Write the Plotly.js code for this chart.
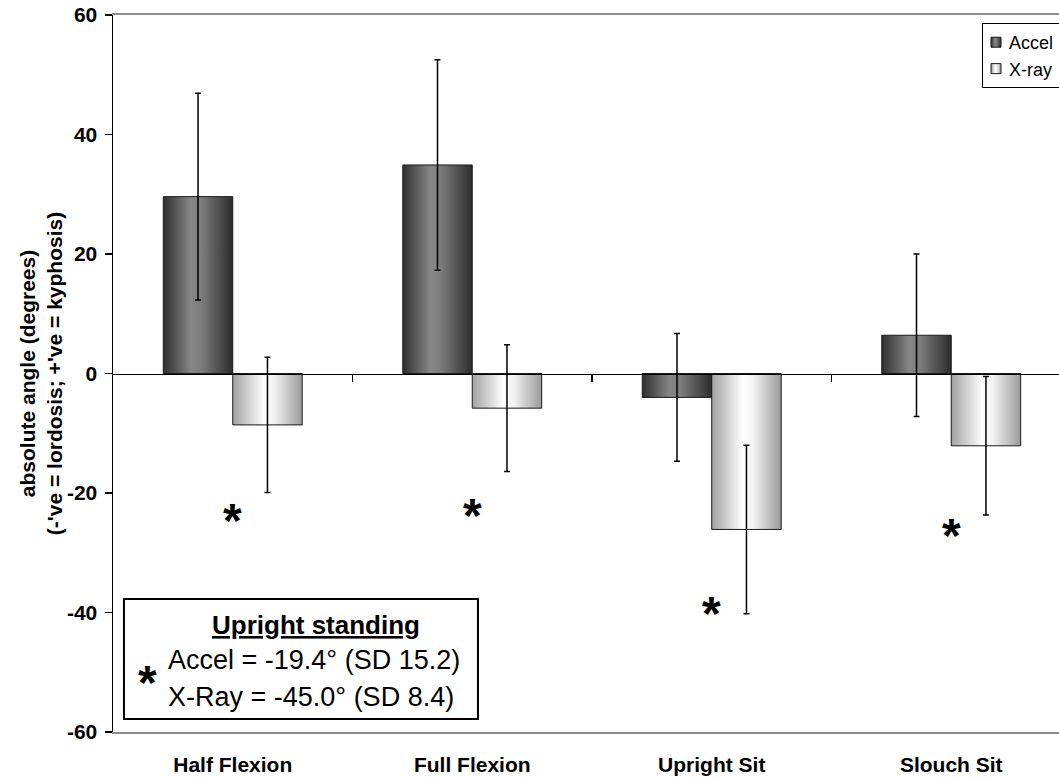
<!DOCTYPE html>
<html>
<head>
<meta charset="utf-8">
<script src="https://cdn.plot.ly/plotly-3.0.1.min.js"></script>
<style>
  html, body { margin: 0; padding: 0; background: #fff; }
  #chart { width: 1059px; height: 778px; }
</style>
</head>
<body>
<div id="chart"></div>
<script>
// Postures measured
const categories = ['Half Flexion', 'Full Flexion', 'Upright Sit', 'Slouch Sit'];

// Mean absolute angle (degrees) and standard deviation for each method
const accelMean = [29.6, 34.9, -4.0, 6.4];
const accelSD   = [17.3, 17.6, 10.7, 13.6];
const xrayMean  = [-8.6, -5.8, -26.1, -12.1];
const xraySD    = [11.3, 10.6, 14.1, 11.6];

// Significance markers (category, value) placed beneath each pair
const starCats = ['Half Flexion', 'Full Flexion', 'Upright Sit', 'Slouch Sit'];
const starVals = [-24.6, -23.8, -40.2, -27.1];

// Upright standing reference values
const standingLines = ['Accel = -19.4\u00b0 (SD 15.2)', 'X-Ray = -45.0\u00b0 (SD 8.4)'];

// Axis ticks (plain hyphen for negatives)
const yTicks = [-60, -40, -20, 0, 20, 40, 60];
const yTickText = yTicks.map(v => '<b>' + String(v) + '</b>');
const xTickText = categories.map(c => '<b>' + c + '</b>');

const FONT = '"Liberation Sans", Arial, sans-serif';

const traces = [
  {
    type: 'bar', name: 'Accel', x: categories, y: accelMean,
    marker: { color: '#6a6a6a', line: { color: '#1a1a1a', width: 1 } },
    error_y: { type: 'data', array: accelSD, visible: true, color: '#000', thickness: 1.5, width: 3 }
  },
  {
    type: 'bar', name: 'X-ray', x: categories, y: xrayMean,
    marker: { color: '#dcdcdc', line: { color: '#1a1a1a', width: 1 } },
    error_y: { type: 'data', array: xraySD, visible: true, color: '#000', thickness: 1.5, width: 3 }
  },
  // zero-line axis carrying the category divider ticks
  { type: 'scatter', x: [], y: [], xaxis: 'x2', showlegend: false, hoverinfo: 'skip' }
];

const annotations = starCats.map((c, i) => ({
  x: c, y: starVals[i], xref: 'x', yref: 'y', text: '<b>*</b>', showarrow: false,
  font: { family: FONT, size: 48, color: '#000' }, yanchor: 'middle'
}));

annotations.push(
  { xref: 'paper', yref: 'paper', x: 0.2150, y: 0.1492, text: '<b><u>Upright standing</u></b>',
    showarrow: false, xanchor: 'center', yanchor: 'middle', font: { family: FONT, size: 26, color: '#000' } },
  { xref: 'paper', yref: 'paper', x: 0.0555, y: 0.1004, text: standingLines[0],
    showarrow: false, xanchor: 'left', yanchor: 'middle', font: { family: FONT, size: 27, color: '#000' } },
  { xref: 'paper', yref: 'paper', x: 0.0555, y: 0.0488, text: standingLines[1],
    showarrow: false, xanchor: 'left', yanchor: 'middle', font: { family: FONT, size: 27, color: '#000' } },
  { xref: 'paper', yref: 'paper', x: 0.0360, y: 0.0690, text: '<b>*</b>',
    showarrow: false, xanchor: 'center', yanchor: 'middle', font: { family: FONT, size: 48, color: '#000' } }
);

const layout = {
  width: 1059, height: 778,
  margin: { l: 113, r: 0, t: 15, b: 46 },
  paper_bgcolor: '#fff', plot_bgcolor: '#fff',
  font: { family: FONT, color: '#000' },
  barmode: 'group', bargap: 0.42, bargroupgap: 0,
  showlegend: true,
  legend: {
    x: 0.885, y: 0.9888, xanchor: 'left', yanchor: 'top',
    bgcolor: '#fff', bordercolor: '#000', borderwidth: 1,
    font: { family: FONT, size: 18, color: '#000' },
    itemwidth: 30, tracegroupgap: 0
  },
  xaxis: {
    type: 'category', range: [-0.5, 3.45],
    tickmode: 'array', tickvals: categories, ticktext: xTickText,
    showline: true, linecolor: '#8c8c8c', linewidth: 2, mirror: true,
    ticks: '', showgrid: false, zeroline: false,
    tickfont: { family: FONT, size: 21, color: '#000' },
    ticklabelstandoff: 13
  },
  xaxis2: {
    overlaying: 'x', anchor: 'free', position: 0.5,
    range: [-0.5, 3.45], showline: true, linecolor: '#000', linewidth: 1.5,
    ticks: 'outside', ticklen: 7, tickwidth: 1.5, tickcolor: '#000',
    tickvals: [0.5, 1.5, 2.5], showticklabels: false, showgrid: false, zeroline: false
  },
  yaxis: {
    range: [-60, 60], tickmode: 'array', tickvals: yTicks, ticktext: yTickText,
    showline: true, linecolor: '#000', linewidth: 1.5,
    ticks: 'outside', ticklen: 7, tickwidth: 1.5, tickcolor: '#000',
    showgrid: false, zeroline: false,
    tickfont: { family: FONT, size: 21, color: '#000' },
    ticklabelstandoff: 3,
    title: {
      text: '<b>absolute angle (degrees)<br>(-\'ve = lordosis; +\'ve = kyphosis)</b>',
      font: { family: FONT, size: 21, color: '#000' }, standoff: 2
    }
  },
  shapes: [
    { type: 'rect', xref: 'paper', yref: 'paper', x0: 0.0116, x1: 0.3858, y0: 0.0181, y1: 0.1855,
      line: { color: '#000', width: 2 }, fillcolor: '#fff', layer: 'below' }
  ],
  annotations: annotations
};

// Horizontal shading on bars and legend swatches, legend nudged to the right edge
function finishChart(gd) {
  const svg = gd.querySelector('svg.main-svg');
  const ns = 'http://www.w3.org/2000/svg';
  let defs = svg.querySelector('defs');
  if (!defs) { defs = document.createElementNS(ns, 'defs'); svg.insertBefore(defs, svg.firstChild); }
  const makeGrad = (id, stops) => {
    const g = document.createElementNS(ns, 'linearGradient');
    g.setAttribute('id', id);
    g.setAttribute('x1', '0'); g.setAttribute('x2', '1');
    g.setAttribute('y1', '0'); g.setAttribute('y2', '0');
    stops.forEach(([o, c]) => {
      const s = document.createElementNS(ns, 'stop');
      s.setAttribute('offset', o); s.setAttribute('stop-color', c);
      g.appendChild(s);
    });
    defs.appendChild(g);
  };
  makeGrad('gradAccel', [[0, '#2f2f2f'], [0.4, '#878787'], [0.55, '#7c7c7c'], [1, '#2c2c2c']]);
  makeGrad('gradXray', [[0, '#a2a2a2'], [0.45, '#ffffff'], [0.6, '#f2f2f2'], [1, '#9a9a9a']]);
  const ids = ['gradAccel', 'gradXray'];
  gd.querySelectorAll('.barlayer .trace.bars').forEach((t, i) => {
    t.querySelectorAll('path').forEach(p => { p.style.fill = 'url(#' + ids[i] + ')'; });
  });

  const legend = gd.querySelector('g.legend');
  if (legend) {
    const m = /translate\(\s*([-\d.]+)[ ,]+([-\d.]+)\s*\)/.exec(legend.getAttribute('transform') || '');
    if (m) legend.setAttribute('transform', 'translate(982,' + m[2] + ')');
  }
  gd.querySelectorAll('.legend .traces').forEach((t, i) => {
    if (i >= 2) return;
    t.querySelectorAll('.legendpoints path').forEach(p => {
      p.style.fill = 'url(#' + ids[i] + ')';
      p.setAttribute('d', 'M5,5H-5V-5H5Z');
    });
    const pts = t.querySelector('.legendpoints');
    if (pts) pts.setAttribute('transform', 'translate(-7,0)');
    const txt = t.querySelector('.legendtext');
    if (txt) {
      txt.setAttribute('x', '26');
      txt.querySelectorAll('tspan').forEach(s => { if (s.hasAttribute('x')) s.setAttribute('x', '26'); });
    }
  });

  const ytitle = gd.querySelector('.g-ytitle');
  if (ytitle) ytitle.setAttribute('transform', 'translate(4,0)');
}

Plotly.newPlot('chart', traces, layout, { staticPlot: true }).then(finishChart);
</script>
</body>
</html>
